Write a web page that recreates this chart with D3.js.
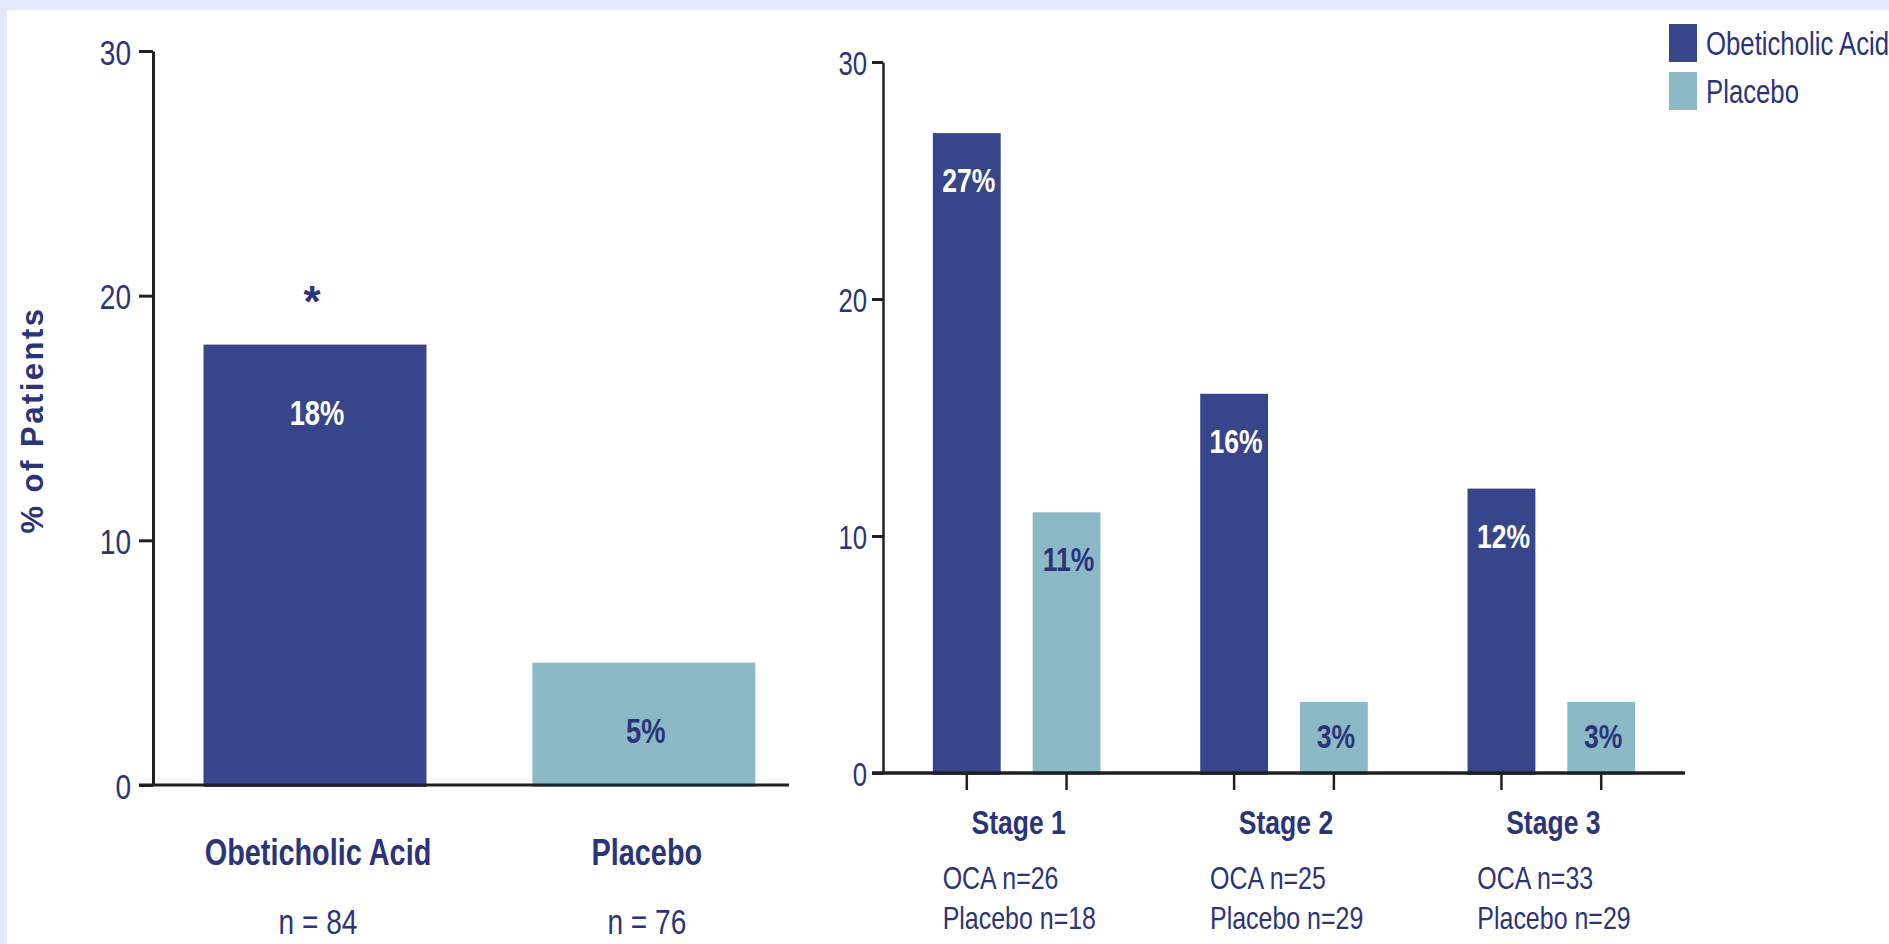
<!DOCTYPE html>
<html>
<head>
<meta charset="utf-8">
<script src="https://cdn.jsdelivr.net/npm/d3@7"></script>
<style>
  html, body { margin: 0; padding: 0; background: #e3e9fb; }
  svg { display: block; }
  text { font-family: "Liberation Sans", Arial, Helvetica, sans-serif; }
</style>
</head>
<body>
<svg id="chart" width="1889" height="944"></svg>
<script>
// Overall response
const overallGroups = ["Obeticholic Acid", "Placebo"];
const overallValues = [18, 5];
const overallN = ["n = 84", "n = 76"];

// Response by stage
const stages = ["Stage 1", "Stage 2", "Stage 3"];
const series = ["Obeticholic Acid", "Placebo"];
const ocaValues = [27, 16, 12];
const placeboValues = [11, 3, 3];
const ocaN = ["OCA n=26", "OCA n=25", "OCA n=33"];
const placeboN = ["Placebo n=18", "Placebo n=29", "Placebo n=29"];

const yTicks = [0, 10, 20, 30];
const yTitle = "% of Patients";

const NAVY = "#37468a";
const TEAL = "#8bb9c5";
const TEXT = "#2b3479";
const AXIS = "#231f20";
const SX = 0.78; // horizontal squeeze for the condensed lettering
const colorOf = d3.scaleOrdinal().domain(series).range([NAVY, TEAL]);
const labelColorOf = d3.scaleOrdinal().domain(series).range(["#ffffff", TEXT]);

// turn x/y placement into a transform so the glyphs can be condensed
function condense(sel, sx = SX) {
  sel.each(function () {
    const t = d3.select(this);
    const x = +t.attr("x") || 0, y = +t.attr("y") || 0;
    t.attr("x", 0).attr("y", 0).attr("transform", `translate(${x},${y}) scale(${sx},1)`);
  });
}

const svg = d3.select("#chart");

// white panel inside the light frame
svg.append("rect").attr("x", 7).attr("y", 10).attr("width", 1889 - 7).attr("height", 944 - 10).attr("fill", "#ffffff");

// ---------- left panel: overall ----------
const yL = d3.scaleLinear().domain([0, 30]).range([785, 51]);
const xL = d3.scaleBand().domain(overallGroups).range([153, 789]).paddingInner(0.322).paddingOuter(0.128).align(0.6);

const left = svg.append("g");

left.selectAll("rect.bar").data(overallGroups).join("rect")
  .attr("class", "bar")
  .attr("x", d => xL(d))
  .attr("width", xL.bandwidth())
  .attr("y", (d, i) => yL(overallValues[i]))
  .attr("height", (d, i) => yL(0) - yL(overallValues[i]) + 2)
  .attr("fill", d => colorOf(d));

const axL = left.append("g").attr("transform", "translate(153,0)")
  .call(d3.axisLeft(yL).tickValues(yTicks).tickSize(14).tickSizeOuter(0).tickPadding(8));
axL.select(".domain").attr("stroke", AXIS).attr("stroke-width", 3);
axL.selectAll(".tick line").attr("stroke", AXIS).attr("stroke-width", 3);
axL.selectAll(".tick text").attr("font-size", 36).attr("fill", TEXT).attr("dy", null)
  .attr("y", 13).call(condense);

// baseline
left.append("line").attr("x1", 139).attr("x2", xL.range()[1]).attr("y1", yL(0)).attr("y2", yL(0))
  .attr("stroke", AXIS).attr("stroke-width", 3);

// value labels
left.selectAll("text.val").data(overallGroups).join("text")
  .attr("class", "val")
  .attr("x", d => xL(d) + xL.bandwidth() / 2 + 2)
  .attr("y", (d, i) => yL(overallValues[i]) + 80)
  .attr("text-anchor", "middle")
  .attr("font-size", 35).attr("font-weight", "bold")
  .attr("fill", d => labelColorOf(d))
  .text((d, i) => overallValues[i] + "%")
  .call(condense);

// significance marker
left.append("text")
  .attr("x", xL(overallGroups[0]) + xL.bandwidth() / 2 - 3)
  .attr("y", yL(overallValues[0]) - 28)
  .attr("text-anchor", "middle").attr("font-size", 44).attr("font-weight", "bold")
  .attr("fill", TEXT).text("*");

// category and n labels
left.selectAll("text.cat").data(overallGroups).join("text")
  .attr("class", "cat")
  .attr("x", d => xL(d) + xL.bandwidth() / 2 + 3)
  .attr("y", 865)
  .attr("text-anchor", "middle").attr("font-size", 37).attr("font-weight", "bold")
  .attr("fill", TEXT).text(d => d)
  .call(condense);
left.selectAll("text.n").data(overallGroups).join("text")
  .attr("class", "n")
  .attr("x", (d, i) => xL(d) + xL.bandwidth() / 2 + 3)
  .attr("y", 934)
  .attr("text-anchor", "middle").attr("font-size", 36)
  .attr("fill", TEXT).text((d, i) => overallN[i])
  .call(condense);

// y-axis title
svg.append("text")
  .attr("transform", "translate(43,420) rotate(-90)")
  .attr("text-anchor", "middle").attr("font-size", 31).attr("font-weight", "bold")
  .attr("letter-spacing", 2.5)
  .attr("fill", TEXT).text(yTitle);

// ---------- right panel: by stage ----------
const yR = d3.scaleLinear().domain([0, 30]).range([773, 62]);
const x0 = d3.scaleBand().domain(stages).range([883, 1685]).padding(0);
const x1 = d3.scaleBand().domain(series).range([0, x0.bandwidth()]).paddingInner(0.32).paddingOuter(0.5);

const stageRows = stages.map((s, i) => ({
  stage: s,
  bars: [
    { key: series[0], value: ocaValues[i] },
    { key: series[1], value: placeboValues[i] }
  ]
}));

const right = svg.append("g");

const groups = right.selectAll("g.stage").data(stageRows).join("g")
  .attr("class", "stage")
  .attr("transform", d => `translate(${x0(d.stage)},0)`);

groups.selectAll("rect").data(d => d.bars).join("rect")
  .attr("x", d => x1(d.key))
  .attr("width", x1.bandwidth())
  .attr("y", d => yR(d.value))
  .attr("height", d => yR(0) - yR(d.value) + 2)
  .attr("fill", d => colorOf(d.key));

groups.selectAll("text.val").data(d => d.bars).join("text")
  .attr("class", "val")
  .attr("x", d => x1(d.key) + x1.bandwidth() / 2 + 2)
  .attr("y", d => yR(d.value) + (d.value < 5 ? 46 : 59))
  .attr("text-anchor", "middle").attr("font-size", 34).attr("font-weight", "bold")
  .attr("fill", d => labelColorOf(d.key))
  .text(d => d.value + "%")
  .call(condense);

// tick marks under each bar
groups.selectAll("line.btick").data(d => d.bars).join("line")
  .attr("class", "btick")
  .attr("x1", d => x1(d.key) + x1.bandwidth() / 2)
  .attr("x2", d => x1(d.key) + x1.bandwidth() / 2)
  .attr("y1", yR(0)).attr("y2", yR(0) + 17)
  .attr("stroke", AXIS).attr("stroke-width", 2.5);

const axR = right.append("g").attr("transform", "translate(883,0)")
  .call(d3.axisLeft(yR).tickValues(yTicks).tickSize(11).tickSizeOuter(0).tickPadding(5));
axR.select(".domain").attr("stroke", AXIS).attr("stroke-width", 2.5);
axR.selectAll(".tick line").attr("stroke", AXIS).attr("stroke-width", 3);
axR.selectAll(".tick text").attr("font-size", 33).attr("fill", TEXT).attr("dy", null)
  .attr("y", 12).call(condense);

right.append("line").attr("x1", 872).attr("x2", x0.range()[1]).attr("y1", yR(0)).attr("y2", yR(0))
  .attr("stroke", AXIS).attr("stroke-width", 3.5);

// stage labels and sample sizes
groups.append("text")
  .attr("x", x0.bandwidth() / 2 + 2).attr("y", 834)
  .attr("text-anchor", "middle").attr("font-size", 34).attr("font-weight", "bold")
  .attr("fill", TEXT).text(d => d.stage)
  .call(condense);
groups.append("text")
  .attr("x", x0.bandwidth() / 2 - 74).attr("y", 889)
  .attr("font-size", 32).attr("fill", TEXT).text((d, i) => ocaN[i])
  .call(condense);
groups.append("text")
  .attr("x", x0.bandwidth() / 2 - 74).attr("y", 929)
  .attr("font-size", 32).attr("fill", TEXT).text((d, i) => placeboN[i])
  .call(condense);

// legend
const legend = svg.append("g").attr("transform", "translate(1669,24)");
const li = legend.selectAll("g").data(series).join("g")
  .attr("transform", (d, i) => `translate(0,${i * 48})`);
li.append("rect").attr("width", 28).attr("height", 38).attr("fill", d => colorOf(d));
li.append("text").attr("x", 37).attr("y", 31)
  .attr("font-size", 33).attr("fill", TEXT).text(d => d)
  .call(condense);
</script>
</body>
</html>
